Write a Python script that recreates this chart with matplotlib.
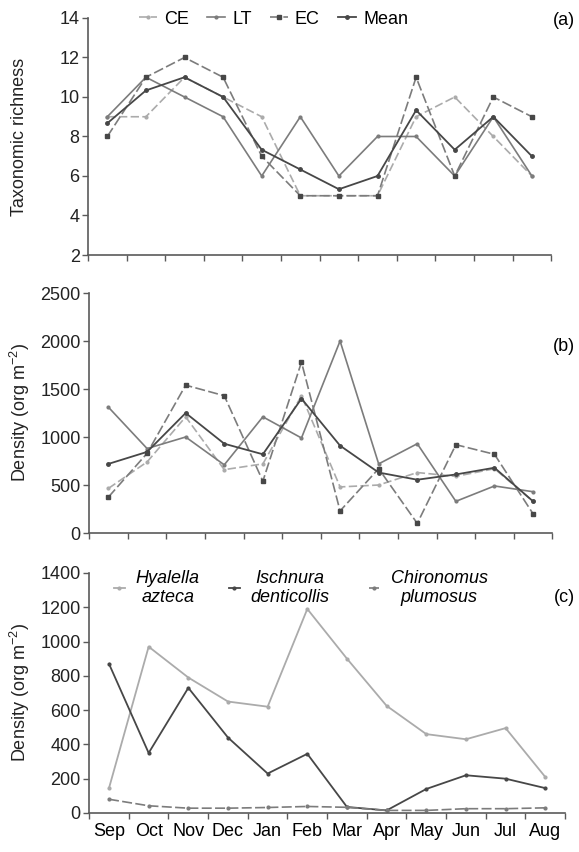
import numpy as np
import matplotlib
matplotlib.use("Agg")
import matplotlib.pyplot as plt
from matplotlib.legend import Legend

plt.rcParams['font.family'] = ['Liberation Sans', 'DejaVu Sans']
plt.rcParams['mathtext.default'] = 'regular'

months = ['Sep', 'Oct', 'Nov', 'Dec', 'Jan', 'Feb', 'Mar', 'Apr', 'May', 'Jun', 'Jul', 'Aug']

# (a) taxonomic richness
rich_ce = [9, 9, 11, 10, 9, 5, 5, 5, 9, 10, 8, 6]
rich_lt = [9, 11, 10, 9, 6, 9, 6, 8, 8, 6, 9, 6]
rich_ec = [8, 11, 12, 11, 7, 5, 5, 5, 11, 6, 10, 9]
rich_mean = [8.67, 10.33, 11, 10, 7.33, 6.33, 5.33, 6, 9.33, 7.33, 9, 7]

# (b) density
dens_ce = [465, 740, 1210, 660, 720, 1430, 480, 500, 630, 590, 670, 330]
dens_lt = [1310, 880, 1000, 710, 1210, 990, 2000, 720, 930, 330, 490, 430]
dens_ec = [375, 830, 1540, 1430, 540, 1780, 230, 670, 100, 920, 820, 200]
dens_mean = [720, 845, 1250, 930, 820, 1400, 910, 630, 555, 610, 680, 330]

# (c) density per taxon
hyalella = [145, 970, 790, 650, 620, 1190, 900, 625, 460, 430, 495, 210]
ischnura = [870, 350, 730, 440, 230, 345, 35, 15, 140, 220, 200, 145]
chironomus = [80, 42, 28, 28, 32, 38, 33, 15, 15, 25, 25, 30]

x = np.arange(12) + 0.5
fs = 13
light = '#ababab'
mid = '#7c7c7c'
dark = '#474747'
W, H = 579, 852

fig = plt.figure(figsize=(5.79, 8.52), dpi=100)
ax1 = fig.add_axes([0.152, 0.7007, 0.800, 0.2782])
ax2 = fig.add_axes([0.154, 0.3744, 0.800, 0.2817])
ax3 = fig.add_axes([0.154, 0.0458, 0.822, 0.2817])

def style(ax):
    for s in ['top', 'right']:
        ax.spines[s].set_visible(False)
    for s in ['left', 'bottom']:
        ax.spines[s].set_color('#5a5a5a')
        ax.spines[s].set_linewidth(1.2)
    ax.set_xlim(0, 12)
    ax.set_xticks(np.arange(13))
    ax.set_xticklabels([])
    ax.tick_params(axis='both', direction='out', length=4, width=1, color='#5a5a5a',
                   labelsize=fs, pad=2, labelcolor='#222222')

def series(ax, ce, lt, ec, mean):
    l1, = ax.plot(x, ce, color=light, ls=(0, (5, 2)), lw=1.2, marker='.', ms=4, label='CE')
    l2, = ax.plot(x, lt, color=mid, ls='-', lw=1.2, marker='.', ms=4, label='LT')
    l3, = ax.plot(x, ec, color=mid, ls=(0, (6, 2)), lw=1.2, marker='s', ms=2.5,
                  mfc=dark, mec=dark, label='EC')
    l4, = ax.plot(x, mean, color=dark, ls='-', lw=1.3, marker='.', ms=5, label='Mean')
    return [l1, l2, l3, l4]

style(ax1)
h = series(ax1, rich_ce, rich_lt, rich_ec, rich_mean)
ax1.set_ylim(2, 14)
ax1.set_yticks(np.arange(2, 15, 2))
ax1.set_ylabel('Taxonomic richness', fontsize=fs, color='#222222')
ax1.legend(handles=h, ncol=4, loc='center', bbox_to_anchor=(0.40, 0.995), frameon=False,
           fontsize=fs, handlelength=1.0, columnspacing=1.0, handletextpad=0.4,
           borderpad=0)
fig.text(575 / W, 0.976, '(a)', fontsize=fs, ha='right', va='center')

style(ax2)
series(ax2, dens_ce, dens_lt, dens_ec, dens_mean)
ax2.set_ylim(0, 2500)
ax2.set_yticks(np.arange(0, 2501, 500))
ax2.set_ylabel('Density (org m$^{-2}$)', fontsize=fs, color='#222222')
fig.text(575 / W, 0.593, '(b)', fontsize=fs, ha='right', va='center')

style(ax3)
g1, = ax3.plot(x, hyalella, color=light, lw=1.3, marker='.', ms=4, label='Hyalella\nazteca')
g2, = ax3.plot(x, ischnura, color=dark, lw=1.3, marker='.', ms=4, label='Ischnura\ndenticollis')
g3, = ax3.plot(x, chironomus, color=mid, ls=(0, (6, 2)), lw=1.2, marker='.', ms=4,
               label='Chironomus\nplumosus')
ax3.set_ylim(0, 1400)
ax3.set_yticks(np.arange(0, 1401, 200))
ax3.set_xticks(x, minor=True)
ax3.set_xticklabels(months, minor=True, fontsize=fs)
ax3.tick_params(axis='x', which='minor', length=0, pad=7)
ax3.set_ylabel('Density (org m$^{-2}$)', fontsize=fs, color='#222222')

# one legend per taxon, placed like the original
for handle, xl in zip([g1, g2, g3], [105, 220, 360]):
    lg = Legend(ax3, [handle], [handle.get_label()], loc='center left', frameon=False,
                bbox_to_anchor=(xl / W, 1 - 588 / H), bbox_transform=fig.transFigure,
                handlelength=0.6, handletextpad=0.6, borderpad=0,
                prop={'style': 'italic', 'size': fs})
    for t in lg.get_texts():
        t.set_multialignment('center')
    ax3.add_artist(lg)
fig.text(575 / W, 0.299, '(c)', fontsize=fs, ha='right', va='center')

# y labels centred near x = 20 px
for ax in (ax1, ax2, ax3):
    x0 = ax.get_position().x0 * W
    wd = ax.get_position().width * W
    ax.yaxis.set_label_coords((20 - x0) / wd, 0.5)
    ax.yaxis.label.set_va('center')

fig.savefig('out.png', dpi=100)
